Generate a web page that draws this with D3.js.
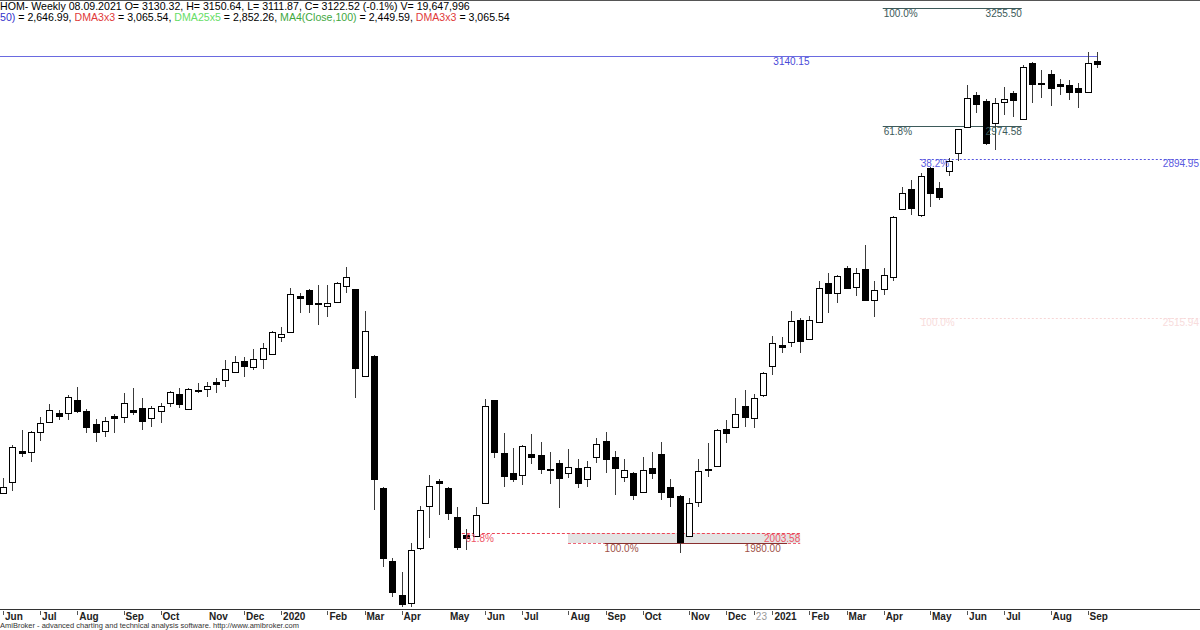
<!DOCTYPE html>
<html><head><meta charset="utf-8">
<script src="https://cdn.jsdelivr.net/npm/d3@7/dist/d3.min.js"></script>
<style>html,body{margin:0;padding:0;background:#fff;overflow:hidden}svg{display:block}text{font-family:"Liberation Sans",Arial,sans-serif}</style>
</head><body><svg id="c" width="1200" height="630"></svg>
<script>
// ---- data (weekly bars, Jun 2019 .. 08.09.2021) ----
const opens = [2099.3,2126.2,2199.4,2197.7,2245.4,2269.3,2289.3,2289.3,2321.0,2295.5,2263.1,2247.1,2282.9,2281.2,2297.2,2301.2,2277.4,2295.5,2313.1,2335.3,2298.8,2344.8,2346.5,2363.9,2368.7,2387.0,2414.0,2399.0,2418.7,2429.9,2471.9,2483.8,2568.9,2583.2,2553.4,2545.8,2555.3,2592.8,2584.9,2378.9,2426.6,2110.5,1937.2,1856.1,1836.3,1968.9,2069.0,2128.6,2110.5,2042.8,1999.2,1996.8,2074.7,2321.0,2193.9,2147.7,2142.2,2192.3,2189.9,2157.7,2170.1,2146.3,2158.2,2132.0,2185.8,2224.0,2184.4,2138.1,2146.3,2102.4,2159.6,2192.3,2112.9,2092.8,1996.8,2078.5,2157.7,2163.7,2252.6,2257.3,2307.4,2278.8,2332.9,2402.8,2452.1,2460.0,2511.7,2465.7,2506.2,2599.2,2576.8,2635.0,2589.7,2632.6,2559.4,2584.9,2615.0,2775.6,2823.3,2762.0,2873.4,2825.7,2866.9,2909.1,2971.1,3048.1,3034.5,2980.7,3032.1,3053.6,2990.2,3125.1,3077.9,3097.5,3073.6,3072.0,3064.1,3056.0,3130.32];
const highs = [2135.0,2213.7,2249.5,2247.1,2279.8,2311.5,2297.2,2332.9,2351.3,2299.5,2275.0,2281.2,2287.6,2337.0,2348.9,2325.1,2306.7,2313.1,2342.5,2348.9,2349.6,2362.2,2364.6,2372.7,2416.4,2425.9,2424.2,2441.9,2456.2,2485.5,2495.7,2587.3,2575.4,2585.6,2595.2,2595.2,2602.3,2637.4,2586.8,2533.9,2428.3,2114.3,1943.6,1911.7,1979.4,2068.3,2142.2,2132.0,2113.6,2066.6,2012.8,2066.6,2322.7,2322.2,2241.6,2205.9,2213.7,2239.9,2221.6,2197.7,2178.0,2203.5,2179.6,2175.6,2229.7,2245.4,2200.1,2180.3,2148.2,2185.8,2197.7,2221.6,2132.0,2094.5,2086.6,2181.5,2217.8,2251.9,2273.3,2325.1,2344.8,2334.6,2387.8,2473.6,2471.9,2533.9,2515.8,2521.3,2605.4,2623.1,2619.0,2640.5,2635.0,2690.5,2604.7,2635.7,2758.5,2828.1,2845.5,2862.9,2875.3,2841.4,2897.2,2967.8,3072.0,3056.0,3037.4,3040.3,3067.9,3056.5,3119.6,3126.1,3107.7,3107.7,3085.5,3083.9,3076.0,3151.3,3150.64];
const lows = [2096.9,2104.8,2185.8,2173.9,2223.3,2266.2,2273.3,2273.3,2289.3,2243.0,2221.6,2233.5,2241.6,2266.9,2285.2,2249.5,2257.3,2265.4,2305.0,2301.2,2297.2,2337.0,2328.9,2337.0,2352.7,2384.6,2375.1,2392.5,2394.9,2428.3,2460.0,2483.1,2527.7,2527.7,2499.8,2519.6,2553.0,2575.4,2325.8,2377.0,2058.8,1923.6,1852.1,1827.5,1827.5,1963.4,1992.7,2046.8,2034.9,1963.4,1963.4,1994.4,2073.1,2182.0,2112.9,2126.2,2118.4,2168.4,2144.6,2120.7,2062.8,2134.3,2110.5,2112.9,2170.1,2146.3,2094.5,2126.2,2082.6,2100.0,2132.0,2082.6,2065.2,1957.0,1995.1,2067.1,2138.1,2160.5,2217.8,2253.5,2257.3,2253.5,2328.9,2380.6,2432.3,2448.1,2432.3,2464.0,2504.6,2529.1,2553.0,2586.8,2568.9,2558.2,2518.9,2571.3,2604.7,2774.0,2762.0,2756.6,2781.8,2797.8,2855.0,2891.5,2970.2,3005.9,2928.9,2917.0,3000.4,2996.4,2989.2,3028.3,3040.3,3021.9,3048.1,3036.2,3016.4,3055.3,3111.87];
const closes = [2113.6,2209.7,2194.6,2245.4,2265.4,2297.2,2283.6,2328.9,2295.5,2257.3,2245.4,2270.2,2278.1,2314.6,2292.4,2270.9,2302.6,2306.7,2339.3,2310.7,2347.2,2341.3,2355.1,2360.3,2394.2,2412.3,2402.1,2418.0,2445.7,2483.8,2478.3,2573.0,2563.0,2549.1,2549.9,2551.5,2599.2,2615.0,2396.6,2485.5,2132.0,1945.0,1864.0,1834.7,1963.4,2058.8,2116.0,2122.4,2050.9,1969.8,1993.2,2046.8,2306.7,2197.7,2139.8,2132.0,2211.3,2184.4,2155.8,2154.1,2135.8,2160.5,2122.4,2160.5,2216.1,2180.3,2158.2,2154.1,2094.5,2154.1,2147.7,2102.4,2090.5,1981.8,2076.2,2151.7,2154.1,2249.5,2241.6,2287.6,2281.2,2325.1,2386.1,2456.2,2448.5,2510.1,2461.6,2511.7,2588.7,2575.4,2616.6,2588.7,2624.5,2559.4,2583.2,2619.0,2756.6,2815.2,2778.0,2855.0,2813.8,2804.2,2891.5,2966.3,3041.7,3026.7,2934.4,3028.3,3037.9,3036.2,3114.2,3074.3,3074.3,3064.1,3070.3,3056.0,3056.0,3123.7,3122.52];

// x-axis month labels: bar index, label, tick mark?
const tickIndex = [0,4,8,13,17,22,26,30,35,39,43,48,52,56,61,65,69,74,78,81,83,87,91,95,100,104,108,113,117];
const tickLabel = ["Jun","Jul","Aug","Sep","Oct","Nov","Dec","2020","Feb","Mar","Apr","May","Jun","Jul","Aug","Sep","Oct","Nov","Dec","23","2021","Feb","Mar","Apr","May","Jun","Jul","Aug","Sep"];
const tickMark  = [1,1,1,1,1,0,1,1,1,1,1,0,1,1,1,1,1,1,1,1,1,1,1,1,1,1,1,1,1];

// Fibonacci / study levels
const topFibValues = [3255.50, 2974.58];
const topFibPct    = ["100.0%", "61.8%"];
const topFibLabel  = ["3255.50", "2974.58"];
const topFibSpan   = [94.9, 109.9];
const resistValue  = 3140.15;
const blueFibValues = [2894.95, 2515.94];
const blueFibPct    = ["38.2%", "100.0%"];
const blueFibLabel  = ["2894.95", "2515.94"];
const blueFibStart  = 98.9;
const redFibValues  = [2003.58, 1980.00];
const redFibPct     = ["61.8%", "100.0%"];
const redFibLabel   = ["2003.58", "1980.00"];

// ---- scales ----
const svg = d3.select("#c");
const n = closes.length;
const x = d3.scaleLinear().domain([0, n - 1]).range([3, 3 + (n - 1) * 9.27]);
const y = d3.scaleLinear().domain([1820.4, 3274.6]).range([610, 0]);
const px = v => Math.round(x(v)) + 0.5;
const py = v => Math.round(y(v)) + 0.5;

svg.append("rect").attr("width",1200).attr("height",630).attr("fill","#fff");

// red fib zone (behind candles)
svg.append("rect")
  .attr("x", x(60.95)).attr("width", x(86.0) - x(60.95))
  .attr("y", y(redFibValues[0])).attr("height", y(redFibValues[1]) - y(redFibValues[0]))
  .attr("fill", "#e4e4e4");
svg.append("line").attr("x1", x(49.5)).attr("x2", x(86.0))
  .attr("y1", py(redFibValues[0])).attr("y2", py(redFibValues[0]))
  .attr("stroke", "#ee4455").attr("stroke-dasharray", "3,2");
svg.append("line").attr("x1", x(60.95)).attr("x2", x(86.0))
  .attr("y1", py(redFibValues[1])).attr("y2", py(redFibValues[1]))
  .attr("stroke", "#ee6677").attr("stroke-dasharray", "3,2");
svg.append("line").attr("x1", x(64.9)).attr("x2", x(84.6))
  .attr("y1", py(redFibValues[1])).attr("y2", py(redFibValues[1]))
  .attr("stroke", "#8a2f2f");

// blue fib dotted lines
svg.selectAll("line.bf").data(blueFibValues).join("line").attr("class","bf")
  .attr("x1", x(blueFibStart)).attr("x2", 1200)
  .attr("y1", d => py(d)).attr("y2", d => py(d))
  .attr("stroke", (d,i) => i === 0 ? "#5555e0" : "#f7d6d6")
  .attr("stroke-dasharray", "2,2");

// resistance line
svg.append("line").attr("x1", x(-0.4)).attr("x2", x(118.1))
  .attr("y1", py(resistValue)).attr("y2", py(resistValue))
  .attr("stroke", "#6a6ae0");

// top fib lines
svg.selectAll("line.tf").data(topFibValues).join("line").attr("class","tf")
  .attr("x1", x(topFibSpan[0])).attr("x2", x(topFibSpan[1]))
  .attr("y1", d => py(d)).attr("y2", d => py(d))
  .attr("stroke", "#3d5a5a");

// ---- candles ----
const idx = d3.range(n);
const g = svg.append("g");
g.selectAll("line.w").data(idx).join("line").attr("class","w")
  .attr("x1", i => px(i)).attr("x2", i => px(i))
  .attr("y1", i => Math.round(y(highs[i]))).attr("y2", i => Math.round(y(lows[i])))
  .attr("stroke", "#3a3a3a").attr("stroke-width", 1);
g.selectAll("rect.b").data(idx).join("rect").attr("class","b")
  .attr("x", i => px(i) - 3)
  .attr("width", 6)
  .attr("y", i => Math.round(y(Math.max(opens[i], closes[i]))) + 0.5)
  .attr("height", i => Math.max(1, Math.round(y(Math.min(opens[i], closes[i]))) - Math.round(y(Math.max(opens[i], closes[i])))))
  .attr("fill", i => closes[i] < opens[i] ? "#000" : "#fff")
  .attr("stroke", "#000").attr("stroke-width", 1);

// ---- level labels ----
const lab = (xx, yy, t, col, anchor) => svg.append("text").attr("x", xx).attr("y", yy)
  .attr("font-size", 10).attr("fill", col).attr("text-anchor", anchor || "start").text(t);

topFibValues.forEach((v, k) => {
  lab(x(topFibSpan[0]) + 1, y(v) + 9, topFibPct[k], "#3d5a5a");
  lab(x(topFibSpan[1]), y(v) + 9, topFibLabel[k], "#3d5a5a", "end");
});
lab(x(83.1), y(resistValue) + 9, "3140.15", "#4a4ad8");
blueFibValues.forEach((v, k) => {
  const col = k === 0 ? "#5a5ae0" : "#f8dcdc";
  lab(x(blueFibStart) + 1, y(v) + 8, blueFibPct[k], col);
  lab(1199, y(v) + 8, blueFibLabel[k], col, "end");
});
lab(x(49.9), y(redFibValues[0]) + 9, redFibPct[0], "#ee5566");
lab(x(86.0), y(redFibValues[0]) + 9, redFibLabel[0], "#ee5566", "end");
lab(x(64.9), y(redFibValues[1]) + 9, redFibPct[1], "#a0524a");
lab(x(83.9), y(redFibValues[1]) + 9, redFibLabel[1], "#a0524a", "end");

// ---- x axis ----
svg.append("line").attr("x1", 0).attr("x2", 1200).attr("y1", 609.5).attr("y2", 609.5).attr("stroke", "#333");
svg.selectAll("line.tk").data(tickIndex.filter((d,k) => tickMark[k])).join("line").attr("class","tk")
  .attr("x1", d => px(d)).attr("x2", d => px(d)).attr("y1", 611).attr("y2", 615).attr("stroke", "#555");
svg.selectAll("text.tl").data(tickIndex).join("text").attr("class","tl")
  .attr("x", (d,k) => x(d) + 2).attr("y", 620)
  .attr("font-size", 10)
  .attr("font-weight", (d,k) => tickLabel[k] === "23" ? "normal" : "bold")
  .attr("fill", (d,k) => tickLabel[k] === "23" ? "#999" : "#222")
  .text((d,k) => tickLabel[k]);

// top border
svg.append("line").attr("x1",0).attr("x2",1200).attr("y1",0.5).attr("y2",0.5).attr("stroke","#555");

// ---- header ----
const h1 = svg.append("text").attr("x", 0).attr("y", 10).attr("font-size", 10.6).attr("fill", "#000");
h1.text("HOM- Weekly 08.09.2021 O= 3130.32, H= 3150.64, L= 3111.87, C= 3122.52 (-0.1%) V= 19,647,996");
const h2 = svg.append("text").attr("x", 0).attr("y", 21).attr("font-size", 10.6);
[["50)", "#3333cc"], [" = 2,646.99, ", "#000"], ["DMA3x3", "#e03a3a"], [" = 3,065.54, ", "#000"],
 ["DMA25x5", "#66dd66"], [" = 2,852.26, ", "#000"], ["MA4(Close,100)", "#3ea83e"], [" = 2,449.59, ", "#000"],
 ["DMA3x3", "#e03a3a"], [" = 3,065.54", "#000"]].forEach(p => h2.append("tspan").attr("fill", p[1]).text(p[0]));

// footer
svg.append("text").attr("x", 0).attr("y", 628).attr("font-size", 7.5).attr("fill", "#333")
  .text("AmiBroker - advanced charting and technical analysis software. http://www.amibroker.com");
</script></body></html>
